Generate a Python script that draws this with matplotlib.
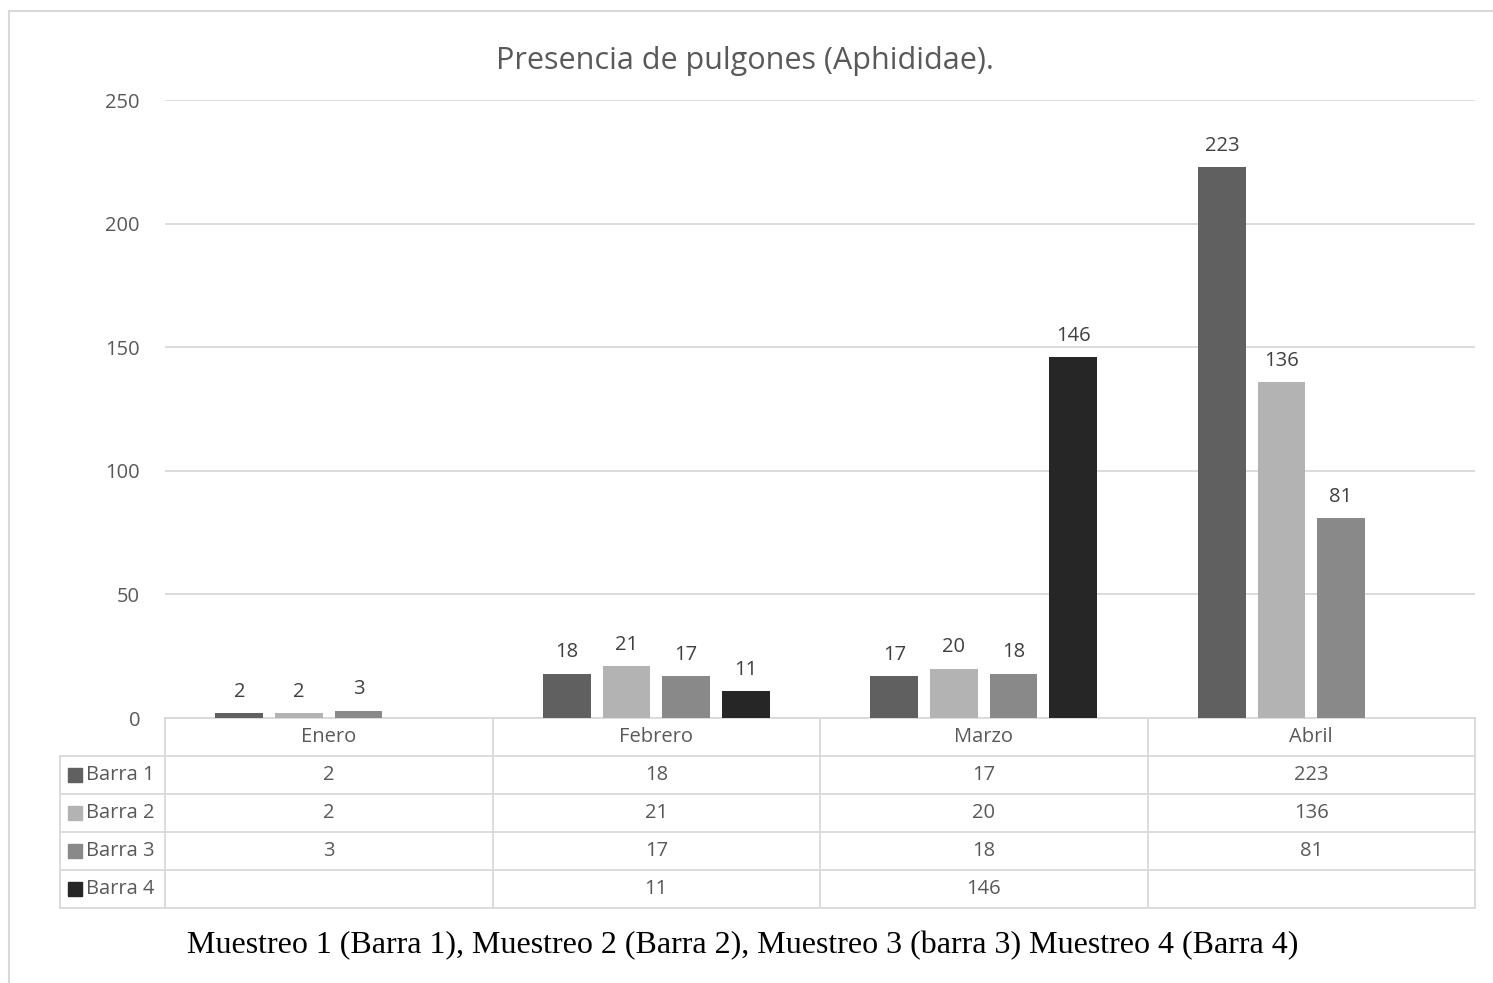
import matplotlib
matplotlib.use("Agg")
import matplotlib.pyplot as plt
import matplotlib.transforms as mtrans
from matplotlib.lines import Line2D
from matplotlib.patches import Rectangle

# ---- data ----
categories = ["Enero", "Febrero", "Marzo", "Abril"]
series_names = ["Barra 1", "Barra 2", "Barra 3", "Barra 4"]
barra1 = [2, 18, 17, 223]
barra2 = [2, 21, 20, 136]
barra3 = [3, 17, 18, 81]
barra4 = [None, 11, 146, None]
y_ticks = [0, 50, 100, 150, 200, 250]
title = "Presencia de pulgones (Aphididae)."
footer = "Muestreo 1 (Barra 1), Muestreo 2 (Barra 2), Muestreo 3 (barra 3) Muestreo 4 (Barra 4)"

series = [barra1, barra2, barra3, barra4]
colors = ["#606060", "#b3b3b3", "#898989", "#262626"]
txt = "#595959"
grid_c = "#d9d9d9"
FONT = ["Open Sans", "DejaVu Sans"]
SMALL = 14.5

W, H = 1493, 983
fig = plt.figure(figsize=(W / 100, H / 100), dpi=100)
plt.rcParams['font.family'] = FONT

def fx(px):
    return px / W

def fy(py):
    return 1 - py / H

ax_l, ax_r, ax_t, ax_b = 165, 1475, 100, 718
ax = fig.add_axes([fx(ax_l), fy(ax_b), fx(ax_r - ax_l), (ax_b - ax_t) / H])
ax.set_xlim(-0.5, len(categories) - 0.5)
ax.set_ylim(0, 250)

step = 0.182
width = 0.146
offsets = [-1.5 * step, -0.5 * step, 0.5 * step, 1.5 * step]
for s, vals in enumerate(series):
    xs = [i + offsets[s] for i, v in enumerate(vals) if v is not None]
    vs = [v for v in vals if v is not None]
    bars = ax.bar(xs, vs, width=width, color=colors[s], zorder=3)
    for b, v in zip(bars, vs):
        ax.annotate(str(v), (b.get_x() + b.get_width() / 2, v), xytext=(0, 8),
                    textcoords="offset points", ha="center", va="bottom",
                    fontsize=SMALL, color="#404040")

ax.set_yticks(y_ticks)
ax.set_yticklabels([str(t) for t in y_ticks], fontsize=SMALL, color=txt)
ax.tick_params(axis="y", length=0, pad=18)
ax.set_xticks([])
for sp in ax.spines.values():
    sp.set_visible(False)
ax.yaxis.grid(True, color=grid_c, linewidth=1.3, zorder=0)
ax.set_axisbelow(True)

fig.text(fx(745), fy(61), title, ha="center", va="center", fontsize=22, color=txt)

# ---- data table ----
ax_h = ax_b - ax_t
row_h = 38.0 / ax_h
n_rows = len(series_names)
trans = mtrans.blended_transform_factory(ax.transData, ax.transAxes)
lbl_left = (60 - ax_l) / (ax_r - ax_l)
lw = 1.3
# header row
for i, c in enumerate(categories):
    ax.text(i, -row_h / 2, c, transform=trans, ha="center", va="center",
            fontsize=SMALL, color=txt, clip_on=False)
# horizontal lines
lines = []
lines.append(Line2D([0, 1], [0, 0], transform=ax.transAxes))
for r in range(1, n_rows + 2):
    lines.append(Line2D([lbl_left, 1], [-r * row_h, -r * row_h], transform=ax.transAxes))
# vertical lines
for k in range(len(categories) + 1):
    xk = k - 0.5
    lines.append(Line2D([xk, xk], [0, -(n_rows + 1) * row_h], transform=trans))
lines.append(Line2D([lbl_left, lbl_left], [-row_h, -(n_rows + 1) * row_h], transform=ax.transAxes))
for ln in lines:
    ln.set_color(grid_c)
    ln.set_linewidth(lw)
    ln.set_clip_on(False)
    ax.add_line(ln)

for r, (name, vals) in enumerate(zip(series_names, series)):
    yc = -(r + 1.5) * row_h
    sq_x = lbl_left + 8 / (ax_r - ax_l)
    sq_w = 14 / (ax_r - ax_l)
    sq_h = 14 / ax_h
    ax.add_patch(Rectangle((sq_x, yc - sq_h / 2), sq_w, sq_h, transform=ax.transAxes,
                           color=colors[r], clip_on=False))
    ax.text(sq_x + sq_w + 4 / (ax_r - ax_l), yc, name, transform=ax.transAxes,
            ha="left", va="center", fontsize=SMALL, color=txt, clip_on=False)
    for i, v in enumerate(vals):
        if v is not None:
            ax.text(i, yc, str(v), transform=trans, ha="center", va="center",
                    fontsize=SMALL, color=txt, clip_on=False)

# footer
fig.text(fx(743), fy(946), footer, ha="center", va="center", fontsize=23,
         color="black", family=["Liberation Serif", "DejaVu Serif"])

# outer chart border (left and top)
fig.add_artist(Line2D([fx(9), fx(9)], [fy(11), 0], color=grid_c, linewidth=1.5))
fig.add_artist(Line2D([fx(9), 1], [fy(11), fy(11)], color=grid_c, linewidth=1.5))

fig.savefig("out.png", dpi=100, facecolor="white")
